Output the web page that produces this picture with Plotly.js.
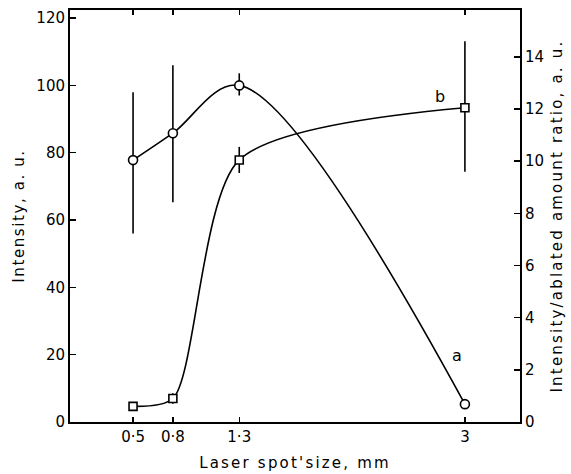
<!DOCTYPE html>
<html>
<head>
<meta charset="utf-8">
<script src="https://cdn.plot.ly/plotly-3.0.1.min.js"></script>
<style>
html,body{margin:0;padding:0;background:#fff;}
#chart{width:571px;height:474px;}
#chart .xtitle, #chart .y2title{letter-spacing:2.2px;}
#chart .ytitle{letter-spacing:1.6px;}
</style>
</head>
<body>
<div id="chart"></div>
<script>
// Data
var spotSize = [0.5, 0.8, 1.3, 3];
var spotTickText = ["0·5", "0·8", "1·3", "3"];
var intensityA = [77.8, 85.8, 100, 5.3];
var intensityErrPlus = [20.2, 20.2, 3.6, 0];
var intensityErrMinus = [21.8, 20.5, 3.0, 0];
var ratioB = [0.6, 0.9, 10.05, 12.05];
var ratioErrPlus = [0, 0.2, 0.5, 2.55];
var ratioErrMinus = [0, 0.2, 0.5, 2.45];
var leftTicks = [0, 20, 40, 60, 80, 100, 120];
var rightTicks = [0, 2, 4, 6, 8, 10, 12, 14];

var FONT = "DejaVu Sans, sans-serif";

var traceA = {
  x: spotSize, y: intensityA, yaxis: 'y', type: 'scatter', mode: 'lines+markers',
  line: {shape: 'spline', smoothing: 1, color: '#000', width: 1.6},
  marker: {symbol: 'circle', size: 9, color: '#fff', line: {color: '#000', width: 1.6}},
  error_y: {type: 'data', symmetric: false, array: intensityErrPlus, arrayminus: intensityErrMinus,
            color: '#000', thickness: 1.6, width: 0},
  showlegend: false, hoverinfo: 'none'
};
var traceB = {
  x: spotSize, y: ratioB, yaxis: 'y2', type: 'scatter', mode: 'lines+markers',
  line: {shape: 'spline', smoothing: 0.75, color: '#000', width: 1.6},
  marker: {symbol: 'square', size: 8, color: '#fff', line: {color: '#000', width: 1.6}},
  error_y: {type: 'data', symmetric: false, array: ratioErrPlus, arrayminus: ratioErrMinus,
            color: '#000', thickness: 1.6, width: 0},
  showlegend: false, hoverinfo: 'none'
};

var layout = {
  width: 571, height: 474,
  margin: {l: 70, r: 51, t: 10, b: 52},
  paper_bgcolor: '#fff', plot_bgcolor: '#fff',
  font: {family: FONT, color: '#000', size: 14},
  xaxis: {
    range: [0.025, 3.415], tickmode: 'array', tickvals: spotSize, ticktext: spotTickText,
    ticks: 'inside', ticklen: 5, tickwidth: 1.5, tickcolor: '#000',
    showline: true, linecolor: '#000', linewidth: 2, mirror: 'ticks',
    showgrid: false, zeroline: false,
    tickfont: {size: 15, family: FONT},
    title: {text: "Laser spot'size, mm", font: {size: 15, family: FONT}, standoff: 12}
  },
  yaxis: {
    range: [0, 122.4], tickmode: 'array', tickvals: leftTicks,
    ticks: 'inside', ticklen: 6, tickwidth: 1.5, tickcolor: '#000',
    showline: true, linecolor: '#000', linewidth: 2,
    showgrid: false, zeroline: false,
    tickfont: {size: 15, family: FONT},
    title: {text: "Intensity, a. u.", font: {size: 15, family: FONT}, standoff: 8}
  },
  yaxis2: {
    range: [0, 15.8], overlaying: 'y', side: 'right', tickmode: 'array', tickvals: rightTicks,
    ticks: 'inside', ticklen: 6, tickwidth: 1.5, tickcolor: '#000',
    showline: true, linecolor: '#000', linewidth: 2,
    showgrid: false, zeroline: false,
    tickfont: {size: 15, family: FONT},
    title: {text: "Intensity/ablated amount ratio, a. u.", font: {size: 15, family: FONT}, standoff: 8}
  },
  annotations: [
    {x: 2.94, y: 19.9, xref: 'x', yref: 'y', text: 'a', showarrow: false, font: {size: 16, family: FONT}},
    {x: 2.81, y: 12.5, xref: 'x', yref: 'y2', text: 'b', showarrow: false, font: {size: 16, family: FONT}}
  ]
};

Plotly.newPlot('chart', [traceA, traceB], layout, {staticPlot: true, displayModeBar: false});
</script>
</body>
</html>
